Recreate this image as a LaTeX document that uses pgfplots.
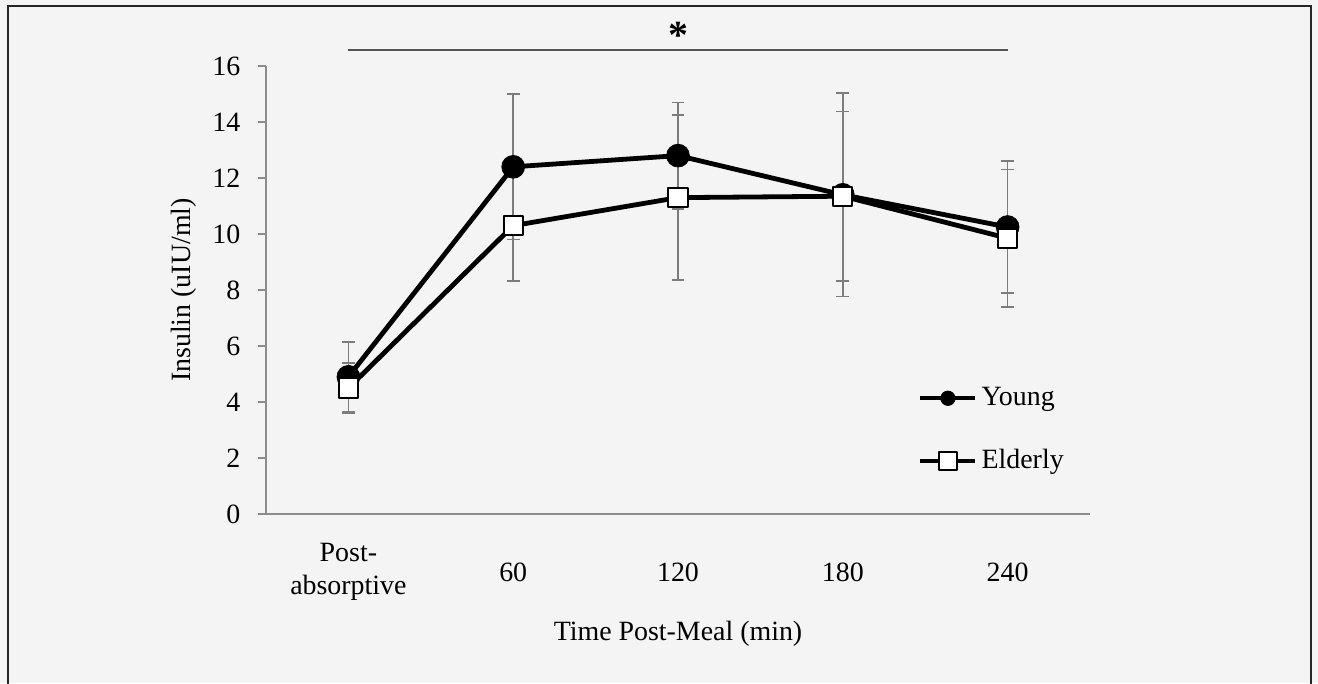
\documentclass[border=0pt]{standalone}
\usepackage{pgfplots}
\pgfplotsset{compat=1.18}
\usepackage{fontspec}
\setmainfont{Liberation Serif}
\definecolor{bg}{HTML}{F4F4F4}
\definecolor{axisgray}{HTML}{8C8C8C}
\definecolor{errgray}{HTML}{7C7C7C}
\definecolor{sigline}{HTML}{555555}
\pgfplotstableread{
x y e
0 4.90 1.25
1 12.40 2.60
2 12.80 1.90
3 11.40 3.63
4 10.25 2.35
}\young
\pgfplotstableread{
x y e
0 4.50 0.90
1 10.30 1.97
2 11.30 2.95
3 11.35 3.03
4 9.85 2.45
}\elderly
\begin{document}
\fontsize{14}{16.8}\selectfont
\begin{tikzpicture}[x=1bp,y=1bp]
\fill[bg] (0,0) rectangle (659,-341.5);
\useasboundingbox (0,0) rectangle (659,-341.5);
\draw[line width=1.2bp, black!85] (4,-345) -- (4,-3) -- (655.5,-3) -- (655.5,-345);
\begin{axis}[
  at={(133bp,-257bp)}, anchor=south west,
  scale only axis, width=412bp, height=224bp,
  xmin=-0.5, xmax=4.5, ymin=0, ymax=16,
  axis x line*=bottom, axis y line*=left,
  axis line style={axisgray, line width=0.8bp, -},
  xtick={0,1,2,3,4},
  xticklabels={{Post-\\absorptive},60,120,180,240},
  xticklabel style={align=center, anchor=center, yshift=-25bp, font=\fontsize{14}{16.5}\selectfont},
  xtick style={draw=none},
  ytick={0,2,...,16},
  tick align=outside,
  ytick style={axisgray, line width=0.8bp},
  major tick length=4bp,
  yticklabel style={xshift=-4bp},
  /pgf/number format/assume math mode=true,
  tick label style={font=\fontsize{14}{16.8}\selectfont},
  label style={font=\fontsize{14}{16.8}\selectfont},
  xlabel={Time Post-Meal (min)},
  ylabel={Insulin (uIU/ml)},
  every axis x label/.style={at={(axis description cs:0.5,-0.267)}, anchor=center},
  every axis y label/.style={at={(axis description cs:-0.1,0.5)}, rotate=90, anchor=center},
  clip=false,
  legend style={draw=none, fill=none, inner sep=0pt, at={(axis cs:3.455,3.0)}, anchor=west,
    row sep=16bp, font=\fontsize{14}{16.8}\selectfont, column sep=0bp},
  legend cell align=left,
  legend image code/.code={\draw[mark repeat=2,mark phase=2,#1] plot coordinates {(0bp,0bp) (13.75bp,0bp) (27.5bp,0bp)};},
]
\addplot[forget plot, draw=none, mark=none,
  error bars/.cd, y dir=both, y explicit,
  error bar style={draw=errgray, solid, line width=0.8bp},
  error mark options={draw=errgray, solid, rotate=90, mark size=3.2bp, line width=0.8bp}]
  table[x=x, y=y, y error=e] {\young};
\addplot[forget plot, draw=none, mark=none,
  error bars/.cd, y dir=both, y explicit,
  error bar style={draw=errgray, solid, line width=0.8bp},
  error mark options={draw=errgray, solid, rotate=90, mark size=3.2bp, line width=0.8bp}]
  table[x=x, y=y, y error=e] {\elderly};
\addplot[black, line width=2.4bp, line join=round, mark=*, mark size=5.7bp,
  mark options={fill=black, line width=0.4bp, solid},
  legend image post style={mark size=3.6bp, line width=2.2bp}] table[x=x, y=y] {\young};
\addlegendentry{Young}
\addplot[black, line width=2.4bp, line join=round, mark=square*, mark size=4.8bp,
  mark options={fill=white, line width=1bp, solid},
  legend image post style={mark size=4.4bp, line width=2.2bp}] table[x=x, y=y] {\elderly};
\addlegendentry{Elderly}
\draw[sigline, line width=1bp] (axis cs:0,16.57) -- (axis cs:4,16.57);
\node[anchor=north, inner sep=0pt, font=\fontsize{20}{20}\selectfont\bfseries] at (axis cs:2,17.57) {*};
\end{axis}
\end{tikzpicture}
\end{document}
